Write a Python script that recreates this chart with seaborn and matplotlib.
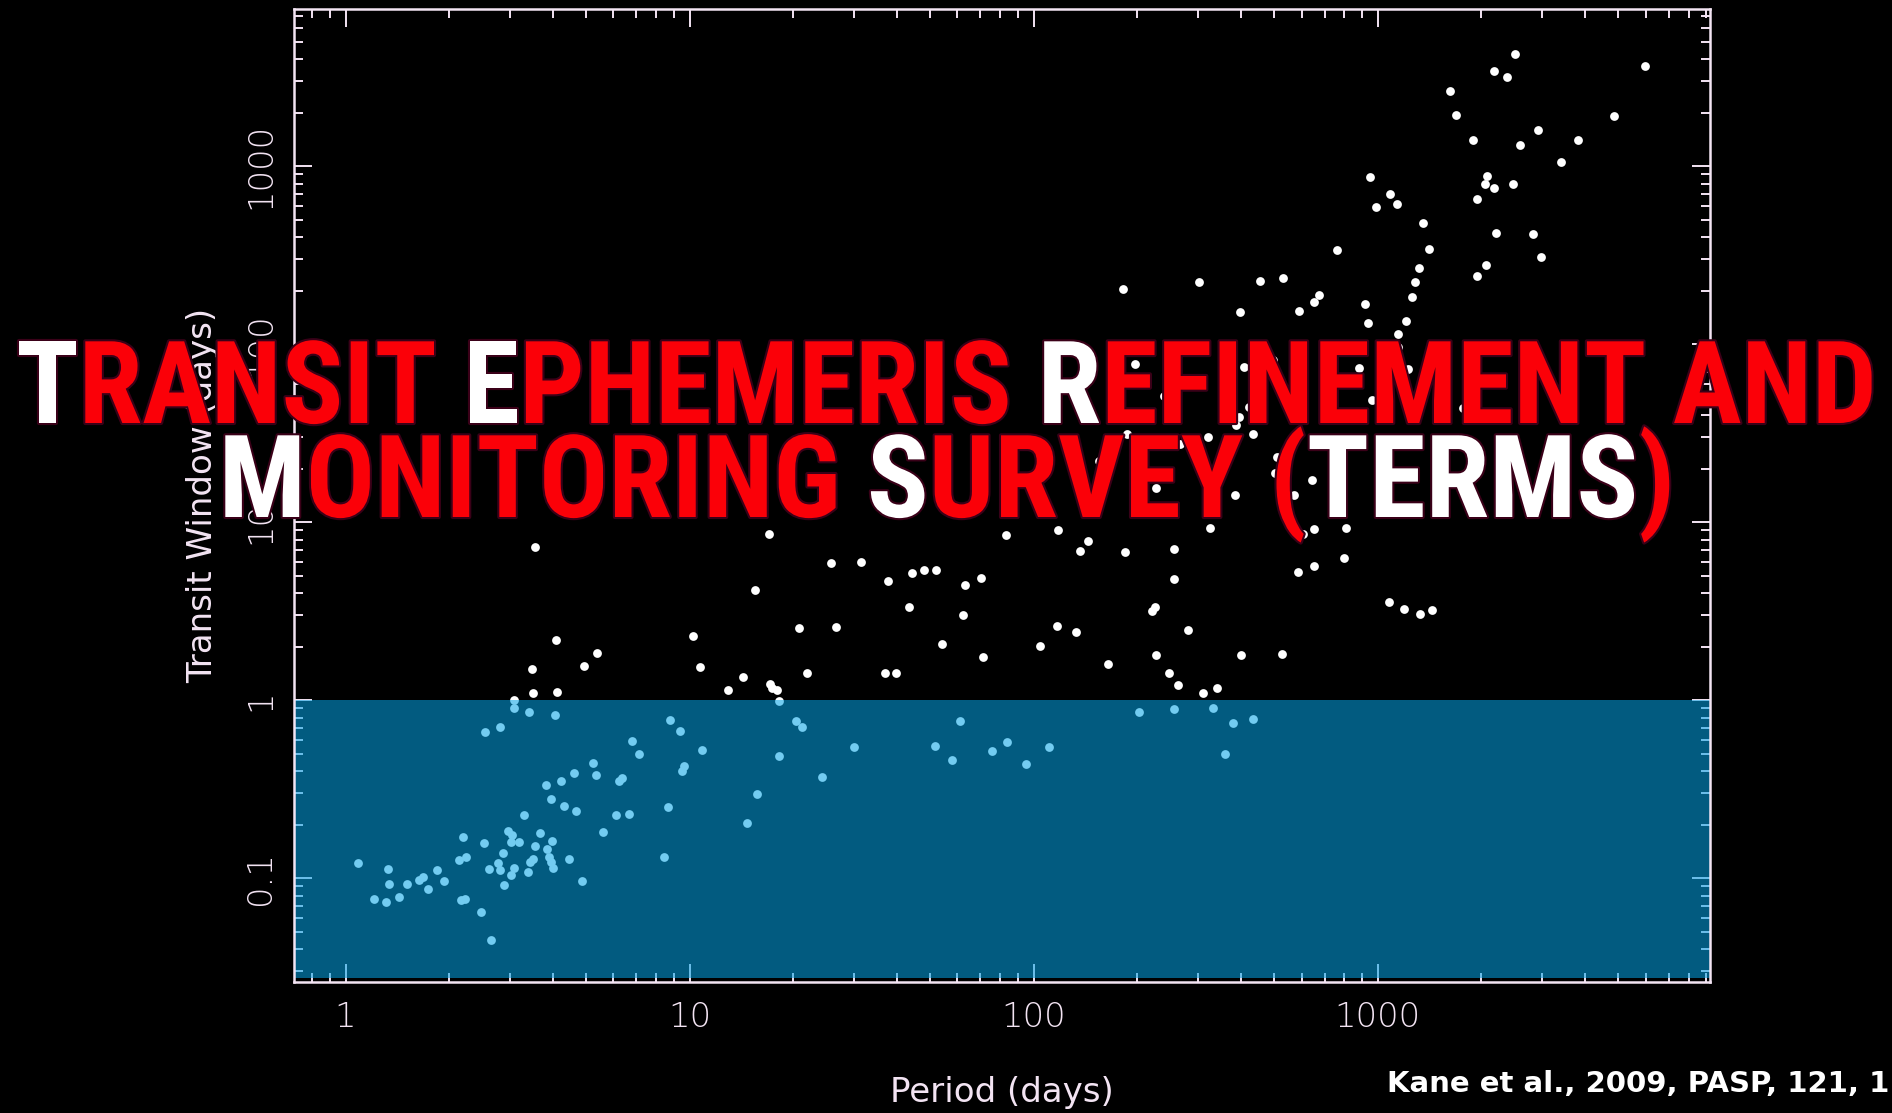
import numpy as np
import matplotlib
matplotlib.use("Agg")
import matplotlib.pyplot as plt
import matplotlib.ticker as mticker
import matplotlib.patheffects as pe
from matplotlib.font_manager import FontProperties
import seaborn as sns

# Orbital period and transit window (days) of the known transiting-candidate planets
period_days = [
    1.09, 1.33, 1.34, 1.21, 1.31, 1.43, 1.51, 1.63, 1.68, 1.74, 1.85, 1.93,
    2.14, 2.24, 2.16, 2.22, 2.47, 2.64, 2.20, 2.52, 2.55, 2.81, 2.61, 2.78,
    2.81, 2.86, 2.89, 2.97, 3.05, 3.02, 3.19, 3.09, 3.02, 3.09, 3.38, 3.44,
    3.51, 3.55, 3.31, 3.41, 3.67, 3.84, 3.91, 3.95, 4.02, 3.98, 3.83, 3.96,
    4.07, 4.22, 4.31, 4.46, 4.61, 4.69, 4.88, 5.23, 5.36, 5.61, 6.12, 6.25,
    6.36, 6.67, 6.82, 7.11, 8.41, 8.65, 8.77, 9.36, 9.52, 9.61, 10.9,
    14.7, 15.7, 18.2, 20.4, 21.2, 24.3, 30.0, 51.6, 58.0, 61.0, 75.5, 83.8,
    95.2, 111, 202, 256, 332, 380, 434, 359,
    3.09, 18.2,
    3.55, 4.08, 5.39, 4.93, 3.48, 3.50, 4.11, 10.2, 10.7, 17.0, 83.3, 118,
    144, 136, 25.8, 31.5, 15.5, 37.8, 44.2, 48.0, 52.1, 43.5, 63.3, 70.4,
    62.2, 20.8, 26.7, 54.1, 71.4, 117, 133, 104, 164, 14.3, 12.9, 17.1,
    17.4, 18.0, 21.9, 36.9, 39.8, 325, 184, 256, 256, 605, 653, 810,
    798, 585, 654, 220, 225, 280, 1076, 1189, 1327, 1440, 227, 400,
    526, 247, 262, 311, 342,
    949, 1085, 1133, 986, 761, 182, 302, 456, 530, 398, 589, 654,
    673, 920, 937, 1353, 1313, 1283, 1254, 1208, 1145, 1145, 2504, 2181,
    2369, 1618, 1684, 1887, 2589, 2921, 3811, 3408, 4858, 5990, 2077, 2049,
    2172, 2476, 1938, 1406, 2205, 2831, 2981, 2067, 1946,
    197, 239, 409, 422, 396, 388, 435, 879, 703, 962, 1220, 496,
    187, 322, 130, 155, 267, 510, 503, 644, 227, 142, 385, 571,
    1768, 1734,
]
window_days = [
    0.122, 0.113, 0.0933, 0.0768, 0.0733, 0.0782, 0.0933, 0.0978, 0.102, 0.0871, 0.111, 0.0962,
    0.126, 0.132, 0.0755, 0.0765, 0.0644, 0.0450, 0.170, 0.157, 0.661, 0.711, 0.113, 0.122,
    0.112, 0.139, 0.0917, 0.185, 0.176, 0.159, 0.160, 0.114, 0.104, 0.909, 0.108, 0.123,
    0.128, 0.151, 0.227, 0.863, 0.180, 0.146, 0.132, 0.124, 0.114, 0.163, 0.336, 0.279,
    0.824, 0.351, 0.254, 0.129, 0.391, 0.238, 0.0966, 0.444, 0.379, 0.181, 0.227, 0.352,
    0.367, 0.229, 0.588, 0.501, 0.131, 0.251, 0.775, 0.670, 0.402, 0.428, 0.524,
    0.205, 0.299, 0.485, 0.762, 0.711, 0.371, 0.547, 0.554, 0.464, 0.765, 0.521, 0.581,
    0.439, 0.547, 0.860, 0.894, 0.905, 0.748, 0.785, 0.501,
    1.01, 0.99,
    7.29, 2.18, 1.84, 1.55, 1.50, 1.10, 1.12, 2.31, 1.54, 8.60, 8.52, 9.05,
    7.88, 6.90, 5.91, 5.96, 4.18, 4.70, 5.21, 5.40, 5.40, 3.36, 4.44, 4.85,
    3.02, 2.56, 2.57, 2.08, 1.74, 2.60, 2.42, 2.02, 1.59, 1.35, 1.15, 1.24,
    1.17, 1.15, 1.42, 1.42, 1.42, 9.25, 6.84, 7.11, 4.78, 8.63, 9.14, 9.29,
    6.30, 5.26, 5.68, 3.18, 3.33, 2.47, 3.55, 3.25, 3.05, 3.20, 1.79, 1.79,
    1.81, 1.43, 1.22, 1.10, 1.18,
    874, 696, 612, 593, 340, 205, 225, 228, 237, 151, 154, 173,
    189, 169, 132, 482, 270, 223, 184, 135, 114, 96.9, 4275, 3417,
    3188, 2659, 1942, 1400, 1322, 1606, 1405, 1057, 1910, 3674, 885, 792,
    755, 792, 658, 342, 422, 418, 308, 280, 242,
    78.0, 51.2, 74.6, 44.7, 38.8, 35.2, 31.2, 73.6, 56.8, 48.7, 72.4, 81.6,
    31.2, 30.0, 24.1, 22.0, 27.4, 23.4, 19.0, 17.2, 15.5, 14.9, 14.2, 14.2,
    43.9, 17.1,
]

x_major_ticks = [1, 10, 100, 1000]
x_tick_labels = ["1", "10", "100", "1000"]
y_major_ticks = [0.1, 1, 10, 100, 1000]
y_tick_labels = ["0.1", "1", "10", "100", "1000"]

x_label = "Period (days)"
y_label = "Transit Window (days)"

title_line1 = [("T", "white"), ("RANSIT ", "red"), ("E", "white"),
               ("PHEMERIS ", "red"), ("R", "white"), ("EFINEMENT AND", "red")]
title_line2 = [("M", "white"), ("ONITORING ", "red"), ("S", "white"),
               ("URVEY (", "red"), ("TERMS", "white"), (")", "red")]
citation = "Kane et al., 2009, PASP, 121, 1"

# windows shorter than one day
short_window_band = (0.0277, 1.0)

# ---------------------------------------------------------------- layout
W_PX, H_PX, DPI = 1892, 1113, 100
FRAME = "#f3e4f3"
RED = "#fb0008"
BAND_RGB = (0.02, 0.645, 0.90)

sns.set_style("dark", rc={"axes.facecolor": "black", "figure.facecolor": "black",
                          "axes.edgecolor": FRAME, "text.color": FRAME,
                          "xtick.color": FRAME, "ytick.color": FRAME,
                          "axes.labelcolor": FRAME})
plt.rcParams["font.family"] = ["DejaVu Sans"]
plt.rcParams["font.weight"] = "light"

fig = plt.figure(figsize=(W_PX / DPI, H_PX / DPI), dpi=DPI)
fig.patch.set_facecolor("black")
ax_l, ax_r, ax_t, ax_b = 294, 1709.5, 9, 982
ax = fig.add_axes([ax_l / W_PX, (H_PX - ax_b) / H_PX,
                   (ax_r - ax_l) / W_PX, (ax_b - ax_t) / H_PX])
ax.set_facecolor("black")

sns.scatterplot(x=period_days, y=window_days, ax=ax, color="white", s=40,
                linewidth=0, legend=False, zorder=2)
ax.set_xscale("log")
ax.set_yscale("log")
ax.set_xlim(0.7085, 9200)
ax.set_ylim(0.02615, 7650)

# translucent blue panel over the sub-day region
ax.axhspan(*short_window_band, color=BAND_RGB, alpha=0.56, lw=0, zorder=3)

ax.grid(False)
for sp in ax.spines.values():
    sp.set_visible(True)
    sp.set_color(FRAME)
    sp.set_linewidth(1.8)
    sp.set_zorder(5)

ax.set_xticks(x_major_ticks)
ax.set_xticklabels(x_tick_labels)
ax.set_yticks(y_major_ticks)
ax.set_yticklabels(y_tick_labels)
for axis in (ax.xaxis, ax.yaxis):
    axis.set_minor_locator(mticker.LogLocator(base=10, subs=np.arange(2, 10), numticks=30))
    axis.set_minor_formatter(mticker.NullFormatter())

ax.tick_params(which="both", direction="in", top=True, right=True,
               bottom=True, left=True, color=FRAME, width=1.4)
ax.tick_params(which="major", length=13)
ax.tick_params(which="minor", length=6.5)
ax.tick_params(axis="x", which="major", pad=13.5, labelsize=24.5, labelcolor=FRAME)
ax.tick_params(axis="y", which="major", pad=12, labelsize=24.5, labelcolor=FRAME,
               labelrotation=90)
for lab in ax.get_yticklabels():
    lab.set_va("center")

ax.set_xlabel(x_label, fontsize=24.5, color=FRAME)
ax.xaxis.label.set_va("baseline")
ax.xaxis.set_label_coords(0.5, -(1102 - ax_b) / (ax_b - ax_t))
ax.set_ylabel(y_label, fontsize=24.5, color=FRAME)
ax.yaxis.label.set_va("baseline")
ax.yaxis.set_label_coords((212 - ax_l) / (ax_r - ax_l), 0.5)

# ---------------------------------------------------------------- two-colour title
fig.canvas.draw()
renderer = fig.canvas.get_renderer()
title_fp = FontProperties(family=["Liberation Sans Narrow", "Roboto Condensed",
                                  "DejaVu Sans"], weight="bold", size=100)


def width_px(s, fp):
    w, _, _ = renderer.get_text_width_height_descent(s, fp, ismath=False)
    return w


line1_text = "".join(s for s, _ in title_line1)
title_fp.set_size(100 * 1861 / width_px(line1_text, title_fp))
outline = [pe.Stroke(linewidth=3, foreground="#3a0018"), pe.Normal()]


def place_line(segments, center_x, baseline_y):
    full = "".join(s for s, _ in segments)
    left = center_x - width_px(full, title_fp) / 2
    start = 0
    for s, colour in segments:
        if start == 0:
            x = left
        else:
            x = left + width_px(full[:start] + s[0], title_fp) - width_px(s[0], title_fp)
        fig.text(x / W_PX, 1 - baseline_y / H_PX, s.rstrip(),
                 color=RED if colour == "red" else "white",
                 fontproperties=title_fp, ha="left", va="baseline",
                 path_effects=outline, zorder=10)
        start += len(s)


place_line(title_line1, 946, 423)
place_line(title_line2, 947, 517)

fig.text(1387 / W_PX, 1 - 1091.5 / H_PX, citation, color="white",
         fontsize=21, fontweight="bold", family="DejaVu Sans",
         ha="left", va="baseline")

fig.savefig("out.png", dpi=DPI, facecolor="black")
